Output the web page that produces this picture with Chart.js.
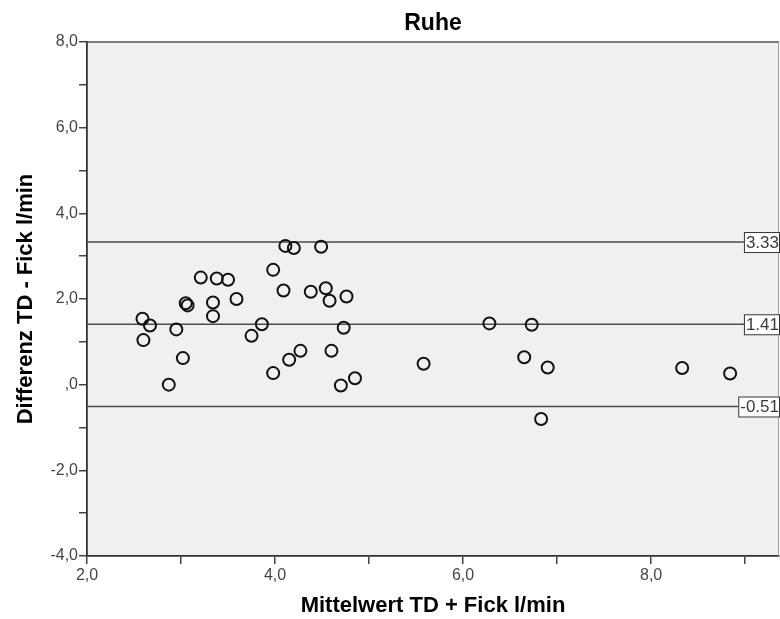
<!DOCTYPE html>
<html>
<head>
<meta charset="utf-8">
<title>Ruhe</title>
<script src="https://cdn.jsdelivr.net/npm/chart.js@4.4.0/dist/chart.umd.min.js"></script>
<style>
  html, body { margin: 0; padding: 0; background: #fff; overflow: hidden; }
  #wrap { width: 780px; height: 619px; position: relative; }
  canvas { display: block; }
</style>
</head>
<body>
<div id="wrap"><canvas id="myChart"></canvas></div>
<script>
// Mittelwert TD + Fick (x) und Differenz TD - Fick (y), je Patient
const mittelwert = [2.59, 2.67, 2.60, 2.95, 3.02, 2.87, 3.05, 3.07, 3.21, 3.38,
  3.50, 3.34, 3.34, 3.59, 3.75, 3.86, 3.98, 4.09, 4.11, 4.20,
  4.49, 4.38, 4.54, 4.58, 4.76, 4.73, 4.60, 4.27, 4.15, 3.98,
  4.70, 4.85, 6.28, 6.73, 5.58, 6.65, 6.90, 8.33, 8.84, 6.83];
const differenz = [1.54, 1.38, 1.04, 1.29, 0.62, 0.00, 1.90, 1.85, 2.50, 2.48,
  2.45, 1.92, 1.60, 2.00, 1.14, 1.41, 2.68, 2.20, 3.24, 3.19,
  3.22, 2.17, 2.25, 1.96, 2.06, 1.33, 0.79, 0.79, 0.58, 0.27,
  -0.02, 0.15, 1.43, 1.40, 0.49, 0.64, 0.40, 0.39, 0.26, -0.80];

// obere Grenze, mittlere Differenz, untere Grenze
const linienWerte = [3.33, 1.41, -0.51];
const linienTexte = ['3.33', '1.41', '-0.51'];

const xTicks = [2, 3, 4, 5, 6, 7, 8, 9];
const yTicks = [-4, -3, -2, -1, 0, 1, 2, 3, 4, 5, 6, 7, 8];
const xMin = 2, xMax = 9.36;
const yMin = -4, yMax = 8;

const titel = 'Ruhe';
const fontName = 'Arial, "Liberation Sans", sans-serif';

// SPSS-Format: 8,0 / ,0 / -2,0 ; ungerade Werte ohne Beschriftung
function spssLabel(v) {
  if (v % 2 !== 0) return '';
  if (v === 0) return ',0';
  return v.toFixed(1).replace('.', ',');
}

const punkte = mittelwert.map((x, i) => ({ x: x, y: differenz[i] }));

const linienDatasets = linienWerte.map(v => ({
  data: [{ x: xMin, y: v }, { x: xMax, y: v }],
  showLine: true,
  borderColor: '#4a4a4a',
  borderWidth: 1.6,
  pointRadius: 0,
  order: 1
}));

const hintergrund = {
  id: 'hintergrund',
  beforeDraw(chart) {
    const { ctx, chartArea: a } = chart;
    ctx.save();
    ctx.fillStyle = '#f0f0f0';
    ctx.fillRect(a.left, a.top, a.right - a.left, a.bottom - a.top);
    ctx.restore();
  },
  afterDraw(chart) {
    const { ctx, chartArea: a } = chart;
    const yScale = chart.scales.y;
    ctx.save();
    // Rahmen oben und rechts
    ctx.strokeStyle = '#555';
    ctx.lineWidth = 1.5;
    ctx.beginPath();
    ctx.moveTo(a.left, a.top);
    ctx.lineTo(a.right, a.top);
    ctx.stroke();
    ctx.strokeStyle = '#a0a0a0';
    ctx.lineWidth = 1;
    ctx.beginPath();
    ctx.moveTo(a.right - 0.5, a.top);
    ctx.lineTo(a.right - 0.5, a.bottom);
    ctx.stroke();

    // Beschriftung der Referenzlinien
    ctx.font = '17px ' + fontName;
    ctx.textBaseline = 'middle';
    ctx.textAlign = 'right';
    linienWerte.forEach((v, i) => {
      const y = yScale.getPixelForValue(v);
      const w = ctx.measureText(linienTexte[i]).width;
      const x1 = a.right + 1;
      const x0 = x1 - w - 3;
      ctx.fillStyle = '#fff';
      ctx.fillRect(x0, y - 10, x1 - x0, 21);
      ctx.strokeStyle = '#333';
      ctx.lineWidth = 1;
      ctx.strokeRect(x0 + 0.5, y - 10 + 0.5, x1 - x0 - 1, 20);
      ctx.fillStyle = '#3a3a3a';
      ctx.fillText(linienTexte[i], x1 - 1, y + 1);
    });

    // Diagrammtitel über der Zeichenfläche
    ctx.font = 'bold 23px ' + fontName;
    ctx.textAlign = 'center';
    ctx.textBaseline = 'alphabetic';
    ctx.fillStyle = '#000';
    ctx.fillText(titel, (a.left + a.right) / 2, 30);
    ctx.restore();
  }
};

const ctx = document.getElementById('myChart').getContext('2d');

new Chart(ctx, {
  type: 'scatter',
  data: {
    datasets: [{
      data: punkte,
      pointStyle: 'circle',
      pointRadius: 6,
      pointHoverRadius: 6,
      pointBorderWidth: 2,
      borderColor: '#111',
      backgroundColor: 'rgba(0,0,0,0)',
      order: 0
    }, ...linienDatasets]
  },
  options: {
    responsive: true,
    maintainAspectRatio: false,
    animation: false,
    layout: { autoPadding: false, padding: { top: 42, right: 1, bottom: 0, left: 0 } },
    plugins: {
      legend: { display: false },
      tooltip: { enabled: false }
    },
    scales: {
      x: {
        type: 'linear',
        min: xMin,
        max: xMax,
        afterBuildTicks: axis => { axis.ticks = xTicks.map(v => ({ value: v })); },
        afterFit: scale => { scale.height = 63; scale.paddingRight = 0; },
        grid: { display: true, drawOnChartArea: false, drawTicks: true, tickLength: 8, color: '#444', lineWidth: 1.5 },
        border: { display: true, color: '#333', width: 1.8 },
        ticks: {
          callback: v => spssLabel(v),
          color: '#444',
          font: { family: fontName, size: 16 },
          padding: 2,
          maxRotation: 0,
          autoSkip: false
        },
        title: {
          display: true,
          text: 'Mittelwert TD + Fick l/min',
          color: '#000',
          font: { family: fontName, size: 22, weight: 'bold' },
          padding: { top: 0, bottom: 0 }
        }
      },
      y: {
        type: 'linear',
        min: yMin,
        max: yMax,
        afterBuildTicks: axis => { axis.ticks = yTicks.map(v => ({ value: v })); },
        afterFit: scale => { scale.width = 87; },
        grid: { display: true, drawOnChartArea: false, drawTicks: true, tickLength: 8, color: '#444', lineWidth: 1.5 },
        border: { display: true, color: '#333', width: 1.8 },
        ticks: {
          callback: v => spssLabel(v),
          color: '#444',
          font: { family: fontName, size: 16 },
          padding: 1,
          autoSkip: false
        },
        title: {
          display: true,
          text: 'Differenz TD - Fick l/min',
          color: '#000',
          font: { family: fontName, size: 22, weight: 'bold' },
          padding: { top: 13, bottom: 0 }
        }
      }
    }
  },
  plugins: [hintergrund]
});
</script>
</body>
</html>
